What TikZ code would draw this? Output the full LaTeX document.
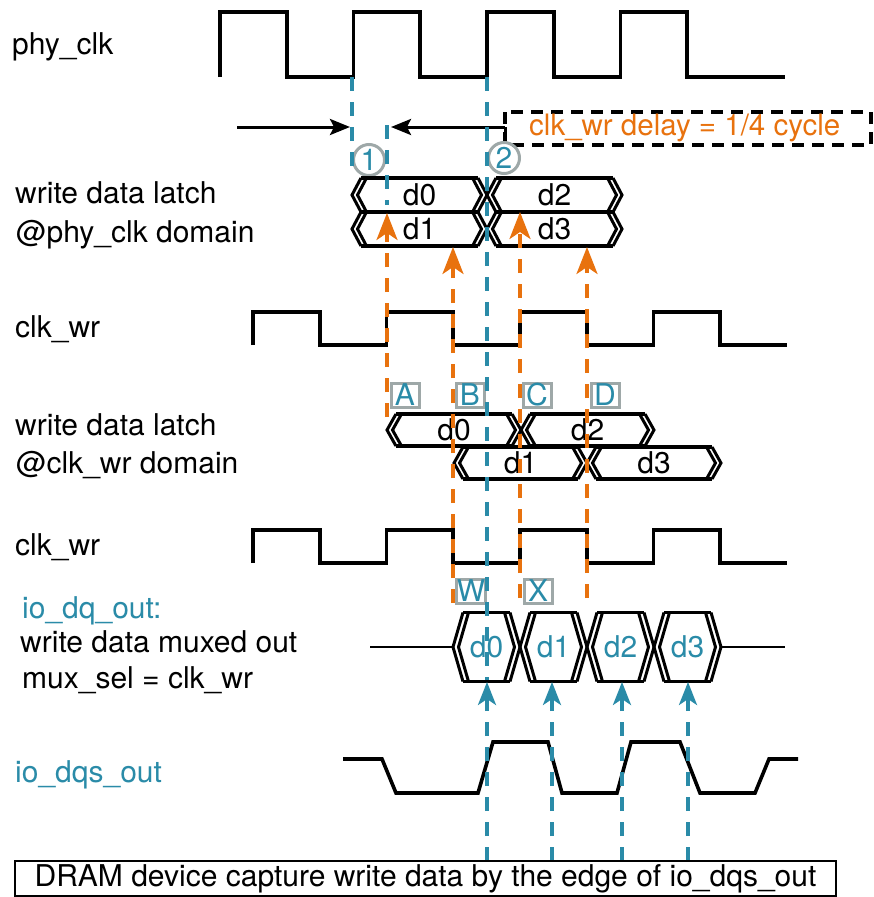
\documentclass[tikz,border=0pt]{standalone}
\usepackage{fontspec}
\setmainfont{TeX Gyre Heros}
\usetikzlibrary{arrows.meta}
\definecolor{sigorange}{RGB}{232,114,14}
\definecolor{sigblue}{RGB}{42,139,168}
\definecolor{markgray}{RGB}{158,168,168}
\newcommand{\sigfont}{\fontsize{30}{36}\selectfont}
\newcommand{\notefont}{\fontsize{29.5}{34}\selectfont}
\newcommand{\markfont}{\fontsize{30}{34}\selectfont}
\def\chevgap{5.5}
\tikzset{
  wave/.style       = {line width=3.6pt, line join=miter},
  busline/.style    = {line width=3.5pt},
  chev/.style       = {line width=3pt},
  thinwire/.style   = {line width=2.8pt},
  bluedash/.style   = {sigblue, line width=3.4pt, dash pattern=on 14pt off 11pt},
  orangedash/.style = {sigorange, line width=3.4pt, dash pattern=on 14pt off 11pt},
  orangehead/.style = {-{Stealth[length=27pt,width=21pt,inset=7pt]}},
  bluehead/.style   = {-{Stealth[length=23pt,width=18pt,inset=6pt]}},
  delayarrow/.style = {-{Stealth[length=20pt,width=16pt,inset=4pt]}, line width=3pt},
  signame/.style    = {font=\sigfont, anchor=base west, inner sep=0pt},
  datatext/.style   = {font=\sigfont, inner sep=0pt},
  markcircle/.style = {circle, draw=markgray, line width=3pt, minimum size=31pt,
                       inner sep=0pt, text=sigblue, font=\markfont},
  markbox/.style    = {rectangle, draw=markgray, line width=3pt, minimum width=28pt,
                       minimum height=24pt, inner sep=0pt, text=sigblue, font=\markfont},
  notebox/.style    = {line width=3.2pt, dash pattern=on 12pt off 8pt},
  capbox/.style     = {draw, line width=2.8pt, minimum width=821pt, minimum height=35pt,
                       inner sep=0pt, font=\sigfont},
}
% name, left, right, y, half height, chevron depth, text, colour
\newcommand{\busseg}[8]{%
  \draw[busline] (#2+#6,#4-#5) -- (#3-#6,#4-#5) (#2+#6,#4+#5) -- (#3-#6,#4+#5);
  \draw[chev] (#2+#6,#4-#5) -- (#2,#4) -- (#2+#6,#4+#5);
  \draw[chev] (#2+#6+\chevgap,#4-#5) -- (#2+\chevgap,#4) -- (#2+#6+\chevgap,#4+#5);
  \draw[chev] (#3-#6,#4-#5) -- (#3,#4) -- (#3-#6,#4+#5);
  \draw[chev] (#3-#6-\chevgap,#4-#5) -- (#3-\chevgap,#4) -- (#3-#6-\chevgap,#4+#5);
  \node[datatext, text=#8] (#1) at ({(#2+#3)/2},#4) {#7};
}
\begin{document}
\begin{tikzpicture}[x=1pt,y=-1pt]
  \useasboundingbox (0,0) rectangle (874,897);

  % signal names
  \node[signame] (lphy) at (12,54) {phy\_clk};
  \node[signame] (llatA1) at (15,203) {write data latch};
  \node[signame] (llatA2) at (16,242) {@phy\_clk domain};
  \node[signame] (lclkA) at (15,337) {clk\_wr};
  \node[signame] (llatB1) at (15,435) {write data latch};
  \node[signame] (llatB2) at (16,473) {@clk\_wr domain};
  \node[signame] (lclkB) at (15,555) {clk\_wr};
  \node[signame, text=sigblue] (ldq1) at (22,618) {io\_dq\_out:};
  \node[signame] (ldq2) at (20,652) {write data muxed out};
  \node[signame] (ldq3) at (22,688) {mux\_sel = clk\_wr};
  \node[signame, text=sigblue] (ldqs) at (15,782) {io\_dqs\_out};

  % clocks
  \draw[wave] (220,77) foreach \k in {1,...,4} { -- ++(0,-65) -- ++(66.75,0) -- ++(0,65) -- ++(66.75,0) } -- (785,77);
  \draw[wave] (253,345) foreach \k in {1,...,4} { -- ++(0,-33) -- ++(66.75,0) -- ++(0,33) -- ++(66.75,0) };
  \draw[wave] (253,563) foreach \k in {1,...,4} { -- ++(0,-33) -- ++(66.75,0) -- ++(0,33) -- ++(66.75,0) };
  \draw[wave] (343,759) -- (382,759) -- (396,793) -- (478,793) -- (493,742) -- (548,742)
    -- (562,793) -- (617,793) -- (631,742) -- (680,742) -- (700,793) -- (755,793)
    -- (769,759) -- (798,759);

  % delay of clk_wr
  \coordinate (dlA) at (237,127);
  \coordinate (dlB) at (350,127);
  \coordinate (drA) at (505,127);
  \coordinate (drB) at (391,127);
  \draw[delayarrow] (dlA) -- (dlB);
  \draw[delayarrow] (drA) -- (drB);
  \draw[line width=3pt] (drA) -- ++(0,9);
  \draw[notebox] (505,112) rectangle (871,145);
  \node[signame, font=\notefont, text=sigorange] (note) at (529,135) {clk\_wr delay = 1/4 cycle};
  \node[markcircle] (m1) at (369,160) {1};
  \node[markcircle] (m2) at (504,158) {2};

  % write data latch @phy_clk domain
  \busseg{pd0}{352}{487}{195}{17}{9}{d0}{black}
  \busseg{pd2}{487}{622}{195}{17}{9}{d2}{black}
  \busseg{pd1}{352}{487}{229}{17}{9}{d1}{black}
  \busseg{pd3}{487}{622}{229}{17}{9}{d3}{black}

  % write data latch @clk_wr domain
  \foreach \n/\x in {A/405,B/470,C/537,D/605}
    \node[markbox] (box\n) at (\x,395) {\n};
  \busseg{wd0}{387}{521}{430}{16}{9}{d0}{black}
  \busseg{wd2}{521}{654}{430}{16}{9}{d2}{black}
  \busseg{wd1}{454}{587}{463}{16}{9}{d1}{black}
  \busseg{wd3}{587}{721}{463}{16}{9}{d3}{black}

  % muxed out
  \node[markbox] (boxW) at (471,591) {W};
  \node[markbox] (boxX) at (538,591) {X};
  \draw[thinwire] (370,647) -- (453,647) (721,647) -- (785,647);
  \busseg{q0}{453}{520}{647}{34.5}{10}{d0}{sigblue}
  \busseg{q1}{520}{587}{647}{34.5}{10}{d1}{sigblue}
  \busseg{q2}{587}{654}{647}{34.5}{10}{d2}{sigblue}
  \busseg{q3}{654}{721}{647}{34.5}{10}{d3}{sigblue}

  % timing guides
  \coordinate (e1) at (352,77);
  \coordinate (e1b) at (352,174);
  \coordinate (e2) at (487,77);
  \coordinate (e2b) at (487,680);
  \coordinate (w1) at (387,125);
  \coordinate (w1b) at (387,205);
  \draw[bluedash] (e1) -- (e1b);
  \draw[bluedash] (w1) -- (w1b);
  \draw[bluedash] (e2) -- (e2b);
  \foreach \x/\tip/\foot [count=\i] in {387/213/417, 453/247/603, 520/212/598, 587/247/598}{
    \coordinate (otip\i) at (\x,\tip);
    \coordinate (ofoot\i) at (\x,\foot);
    \draw[orangedash, orangehead] (ofoot\i) -- (otip\i);
  }
  \foreach \x [count=\i] in {487,552,622,688}{
    \coordinate (btip\i) at (\x,682);
    \coordinate (bfoot\i) at (\x,861);
    \draw[bluedash, bluehead] (bfoot\i) -- (btip\i);
  }

  \node[capbox] (cap) at (425.5,878.5) {DRAM device capture write data by the edge of io\_dqs\_out};
\end{tikzpicture}
\end{document}
